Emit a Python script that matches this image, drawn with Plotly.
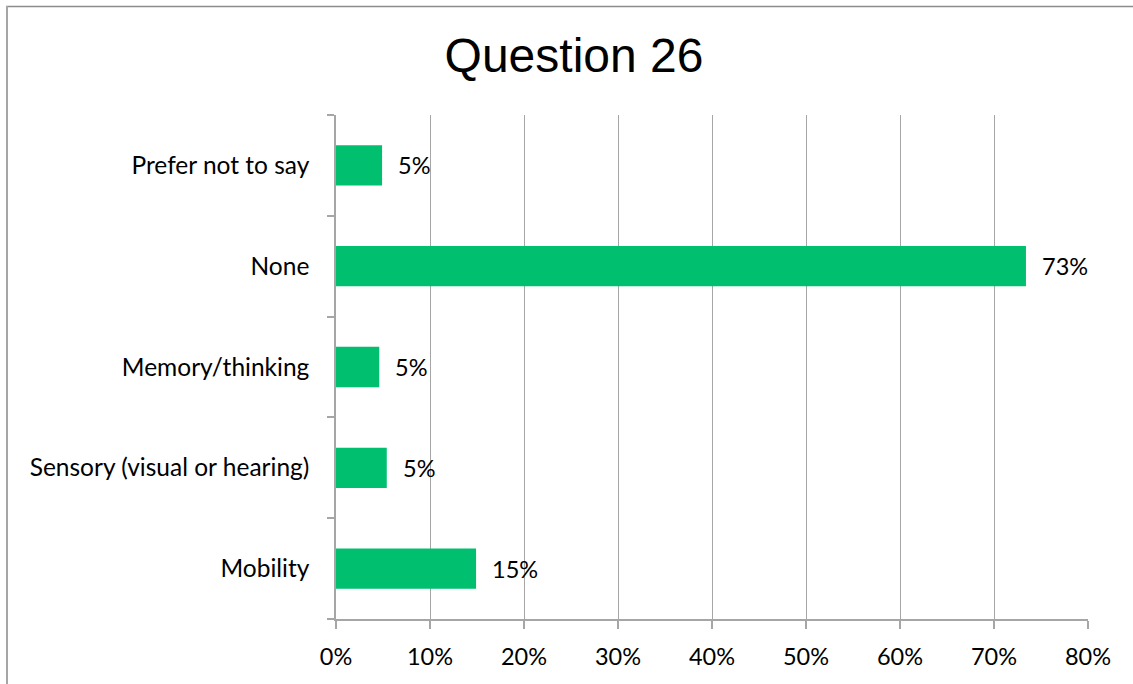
import plotly.graph_objects as go

# Question 26 responses (share of respondents, %)
categories = ["Mobility", "Sensory (visual or hearing)", "Memory/thinking", "None", "Prefer not to say"]
values = [14.9, 5.4, 4.6, 73.4, 4.9]
x_ticks = [0, 10, 20, 30, 40, 50, 60, 70, 80]
x_tick_labels = [f"{t}%" for t in x_ticks]

W, H = 1133, 684
ML, MR, MT, MB = 336, 45, 115, 65
plot_w = W - ML - MR
plot_h = H - MT - MB

BAR = "#00BF6F"
GRID = "#A6A6A6"
LABEL_FONT = "Lato"
LABEL_SIZE = 24

fig = go.Figure(
    go.Bar(
        y=categories,
        x=values,
        orientation="h",
        marker=dict(color=BAR, line=dict(width=0)),
        hoverinfo="skip",
    )
)

# value labels to the right of each bar
for c, v in zip(categories, values):
    fig.add_annotation(
        x=v, y=c, xref="x", yref="y",
        text=f"{round(v)}%",
        showarrow=False, xanchor="left", yanchor="middle",
        xshift=14,
        font=dict(family=LABEL_FONT, size=LABEL_SIZE - 0.5, color="#000000"),
    )

# outer frame of the chart area (top and left edges)
def px_to_paper_x(px):
    return (px - ML) / plot_w

def px_to_paper_y(py):
    return (H - MB - py) / plot_h

fig.add_shape(type="line", xref="paper", yref="paper",
              x0=px_to_paper_x(6), x1=px_to_paper_x(1140),
              y0=px_to_paper_y(6.5), y1=px_to_paper_y(6.5),
              line=dict(color="#8C8C8C", width=1.5))
fig.add_shape(type="line", xref="paper", yref="paper",
              x0=px_to_paper_x(7), x1=px_to_paper_x(7),
              y0=px_to_paper_y(6), y1=px_to_paper_y(700),
              line=dict(color="#A6A6A6", width=2))

fig.update_layout(
    width=W, height=H,
    margin=dict(l=ML, r=MR, t=MT, b=MB),
    paper_bgcolor="white", plot_bgcolor="white",
    showlegend=False,
    bargap=0.6,
    title=dict(
        text="Question 26",
        x=574 / W, xanchor="center",
        y=1 - 55 / H, yanchor="middle",
        font=dict(family="Liberation Sans", size=48, color="#000000"),
    ),
    xaxis=dict(
        range=[0, 80],
        tickvals=x_ticks, ticktext=x_tick_labels,
        showgrid=True, gridcolor=GRID, gridwidth=1,
        showline=True, linecolor=GRID, linewidth=1.5,
        ticks="outside", ticklen=8, tickcolor=GRID, tickwidth=1.5,
        ticklabelstandoff=8,
        zeroline=False,
        tickfont=dict(family=LABEL_FONT, size=LABEL_SIZE - 0.5, color="#000000"),
        fixedrange=True,
    ),
    yaxis=dict(
        categoryorder="array", categoryarray=categories,
        showline=True, linecolor=GRID, linewidth=1.5,
        ticks="outside", ticklen=7, tickcolor=GRID, tickwidth=1.5,
        tickson="boundaries",
        ticklabelstandoff=20,
        showgrid=False, zeroline=False,
        tickfont=dict(family=LABEL_FONT, size=LABEL_SIZE + 0.5, color="#000000"),
        fixedrange=True,
    ),
)

fig.write_html("out.html")
